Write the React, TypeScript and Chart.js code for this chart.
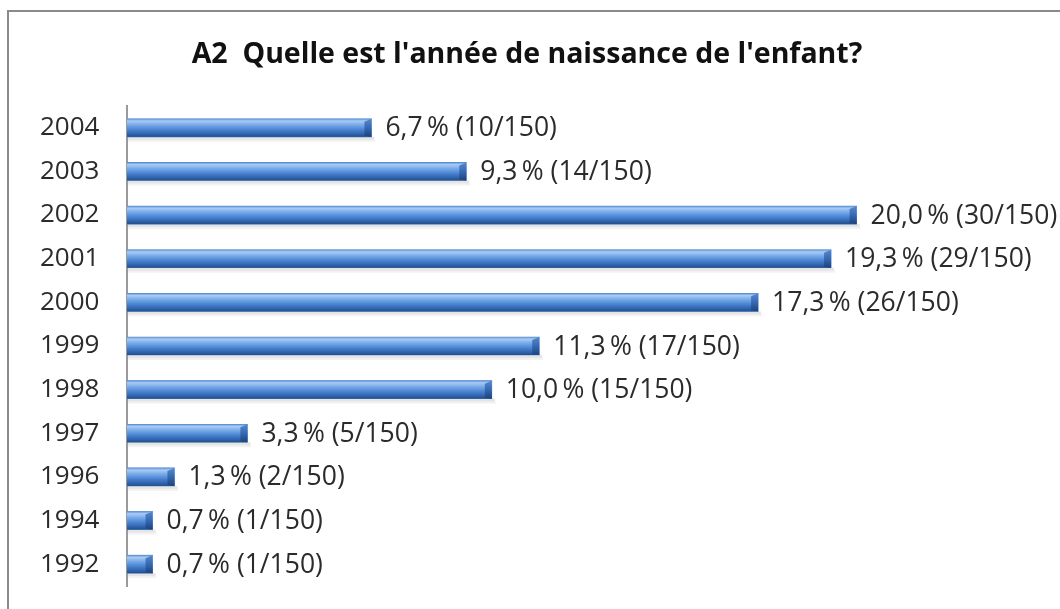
import React, { useEffect, useRef } from "react";
import { Chart, registerables } from "chart.js";

Chart.register(...registerables);

const TITLE = "A2  Quelle est l'année de naissance de l'enfant?";
const YEARS = ["2004", "2003", "2002", "2001", "2000", "1999", "1998", "1997", "1996", "1994", "1992"];
const PERCENTS = [6.7, 9.3, 20.0, 19.3, 17.3, 11.3, 10.0, 3.3, 1.3, 0.7, 0.7];
const COUNTS = [10, 14, 30, 29, 26, 17, 15, 5, 2, 1, 1];
const TOTAL = 150;

const FONT = "'Open Sans', Lato, sans-serif";

const cylinderPlugin = {
  id: "cylinder",
  afterDatasetsDraw(chart: any) {
    const ctx = chart.ctx;
    const meta = chart.getDatasetMeta(0);
    meta.data.forEach((bar: any, i: number) => {
      const x0 = bar.base;
      const x1 = bar.x;
      const h = bar.height;
      const top = bar.y - h / 2;
      const bot = bar.y + h / 2;
      ctx.save();
      // shadow
      ctx.fillStyle = "rgba(0,0,0,0.10)";
      ctx.fillRect(x0 + 1, bot, x1 - x0 + 2, 3);
      ctx.fillStyle = "rgba(0,0,0,0.05)";
      ctx.fillRect(x0 + 1, bot + 3, x1 - x0 + 3, 2);
      // body gradient
      const g = ctx.createLinearGradient(0, top, 0, bot);
      g.addColorStop(0, "#5f93d8");
      g.addColorStop(0.12, "#a9cbf4");
      g.addColorStop(0.35, "#75a8e8");
      g.addColorStop(0.6, "#4b84d2");
      g.addColorStop(0.85, "#2f63ab");
      g.addColorStop(1, "#234d8a");
      ctx.fillStyle = g;
      ctx.fillRect(x0, top, x1 - x0, h);
      // end cap
      const capW = Math.min(7, (x1 - x0) * 0.3);
      const g2 = ctx.createLinearGradient(0, top, 0, bot);
      g2.addColorStop(0, "#5688cc");
      g2.addColorStop(0.5, "#3669b2");
      g2.addColorStop(1, "#1d4279");
      ctx.fillStyle = g2;
      ctx.beginPath();
      ctx.moveTo(x1 - capW, top + 3);
      ctx.lineTo(x1, top);
      ctx.lineTo(x1, bot);
      ctx.lineTo(x1 - capW, bot - 1);
      ctx.closePath();
      ctx.fill();
      // label
      const txt =
        PERCENTS[i].toFixed(1).replace(".", ",") + "\u2009% (" + COUNTS[i] + "/" + TOTAL + ")";
      ctx.fillStyle = "#2b2b2b";
      ctx.font = "26.5px " + FONT;
      ctx.textAlign = "left";
      ctx.textBaseline = "middle";
      ctx.fillText(txt, x1 + 14, bar.y + 1);
      ctx.restore();
    });
  },
};

const framePlugin = {
  id: "frame",
  beforeDraw(chart: any) {
    const ctx = chart.ctx;
    ctx.save();
    ctx.fillStyle = "#ffffff";
    ctx.fillRect(0, 0, chart.width, chart.height);
    ctx.strokeStyle = "#8a8a8a";
    ctx.lineWidth = 2;
    ctx.beginPath();
    ctx.moveTo(8, chart.height + 5);
    ctx.lineTo(8, 11);
    ctx.lineTo(chart.width + 5, 11);
    ctx.stroke();
    // title
    ctx.fillStyle = "#111111";
    ctx.font = "bold 28.5px " + FONT;
    ctx.textAlign = "center";
    ctx.textBaseline = "alphabetic";
    ctx.fillText(TITLE, 527, 63);
    ctx.restore();
  },
};

export default function App() {
  const ref = useRef<HTMLCanvasElement | null>(null);
  useEffect(() => {
    if (!ref.current) return;
    const chart = new Chart(ref.current, {
      type: "bar",
      data: {
        labels: YEARS,
        datasets: [
          {
            data: PERCENTS,
            backgroundColor: "#4b84d2",
            borderWidth: 0,
            barThickness: 18,
          },
        ],
      },
      plugins: [framePlugin, cylinderPlugin],
      options: {
        animation: false,
        responsive: false,
        indexAxis: "y",
        layout: { padding: { left: 40, right: 21, top: 106, bottom: 23 } },
        plugins: {
          legend: { display: false },
          tooltip: { enabled: false },
          title: { display: false },
        },
        scales: {
          x: {
            display: false,
            min: 0,
            max: 25,
          },
          y: {
            grid: { display: false, drawTicks: false },
            border: { display: true, color: "#9a9a9a", width: 2 },
            ticks: {
              color: "#2b2b2b",
              font: { family: FONT, size: 26 },
              padding: 0,
              crossAlign: "far",
            },
            afterFit(scale: any) {
              scale.width = 87;
            },
          },
        },
      },
    } as any);
    return () => chart.destroy();
  }, []);
  return (
    <div style={{ position: "fixed", left: 0, top: 0, width: 1060, height: 609, background: "#fff" }}>
      <canvas ref={ref} width={1060} height={609} style={{ display: "block" }} />
    </div>
  );
}
